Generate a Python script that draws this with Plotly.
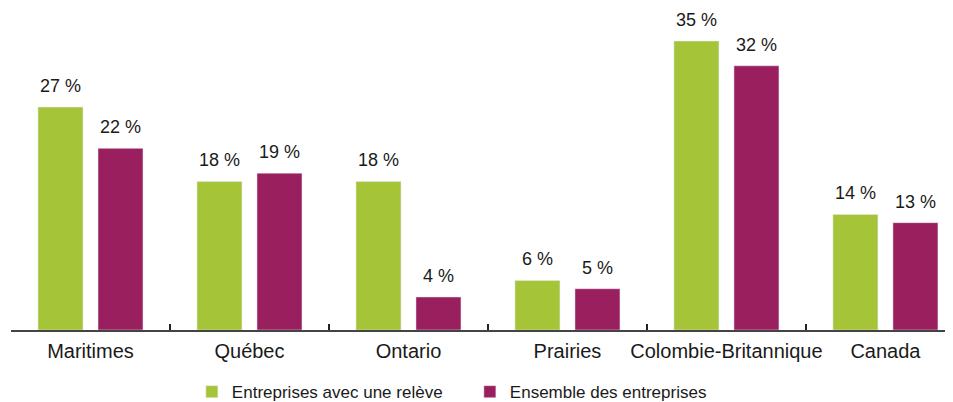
"""Part des entreprises par région : avec une relève vs ensemble des entreprises."""

import plotly.graph_objects as go

regions = ["Maritimes", "Québec", "Ontario", "Prairies", "Colombie-Britannique", "Canada"]
releve = [27, 18, 18, 6, 35, 14]
ensemble = [22, 19, 4, 5, 32, 13]
series_names = ["Entreprises avec une relève", "Ensemble des entreprises"]

GREEN = "#A6C437"
PURPLE = "#9A1F5E"
SANS = "Liberation Sans, Arial, sans-serif"

fig = go.Figure()

fig.add_trace(go.Bar(x=regions, y=releve, name=series_names[0], marker_color=GREEN))
fig.add_trace(go.Bar(x=regions, y=ensemble, name=series_names[1], marker_color=PURPLE))

# Value labels above each bar
for values, shift in ((releve, -30), (ensemble, 30)):
    for region, v in zip(regions, values):
        fig.add_annotation(
            x=region,
            y=v,
            text=f"{v} %",
            showarrow=False,
            xshift=shift,
            yshift=9,
            yanchor="bottom",
            font={"family": SANS, "size": 18, "color": "#1a1a1a"},
        )

# page body has an 8px margin, so the figure is a bit smaller than the window
fig.update_layout(
    width=945,
    height=394,
    margin={"l": 3, "r": 0, "t": 0, "b": 72, "autoexpand": False},
    paper_bgcolor="white",
    plot_bgcolor="white",
    barmode="group",
    bargap=0.245,
    bargroupgap=0.25,
    showlegend=True,
    legend={
        "orientation": "h",
        "x": 0.192,
        "xanchor": "left",
        "y": -0.137,
        "yanchor": "top",
        "entrywidth": 233,
        "font": {"family": SANS, "size": 17, "color": "#1a1a1a"},
        "traceorder": "normal",
    },
)

fig.update_xaxes(
    range=[-0.5, 5.425],
    showline=True,
    linecolor="#444444",
    linewidth=1.5,
    ticks="inside",
    tickson="boundaries",
    ticklen=6,
    tickwidth=2,
    tickcolor="#222222",
    tickangle=0,
    automargin=False,
    ticklabelstandoff=2,
    tickfont={"family": SANS, "size": 20, "color": "#1a1a1a"},
    showgrid=False,
)
fig.update_yaxes(
    range=[0, 39.0],
    visible=False,
    showgrid=False,
    zeroline=False,
)

fig.write_html("out.html")
